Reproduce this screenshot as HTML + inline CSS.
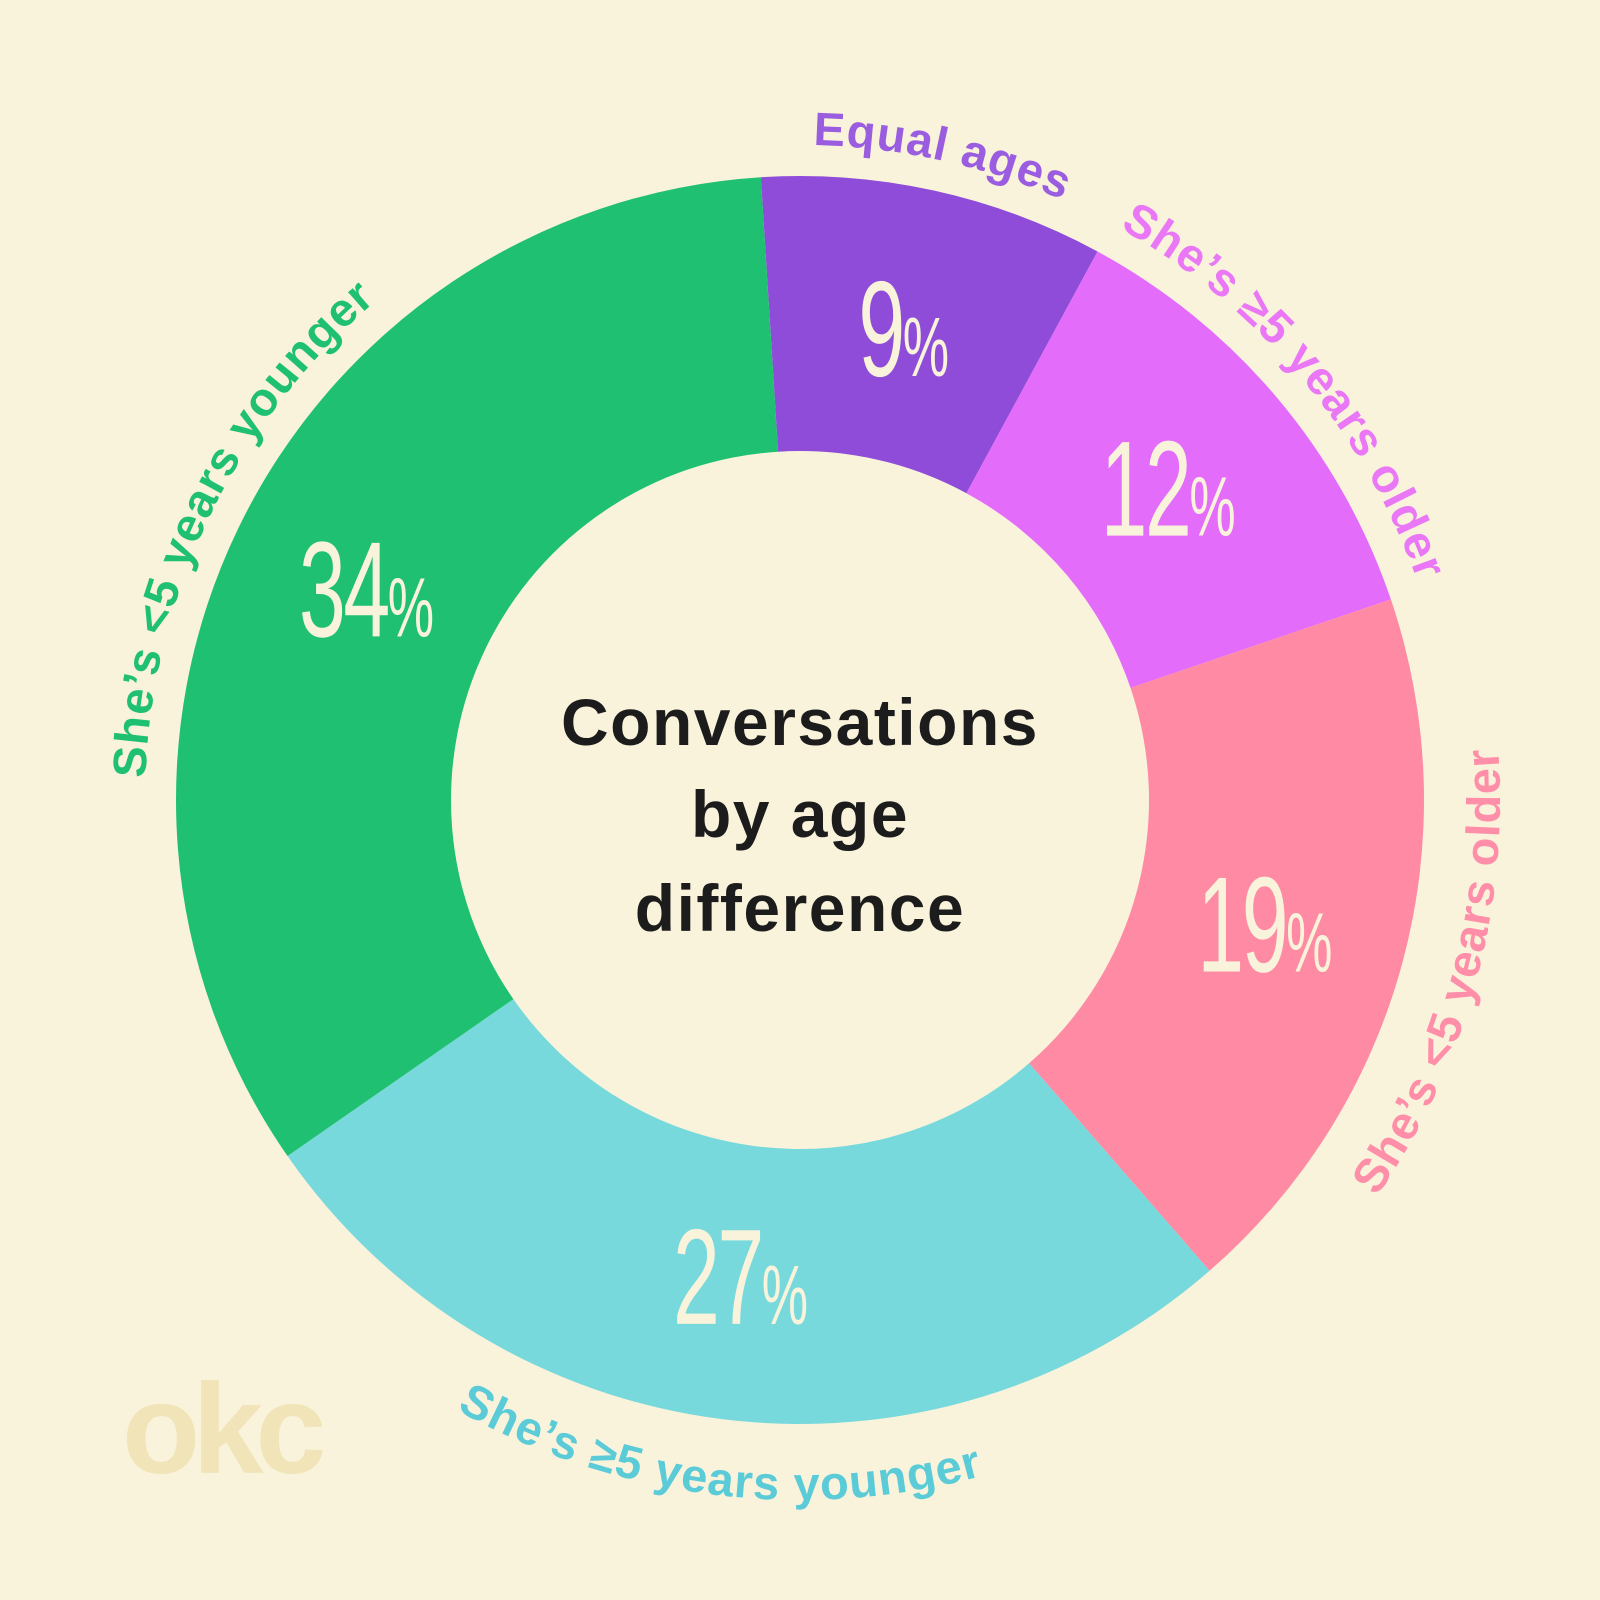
<!DOCTYPE html>
<html><head><meta charset="utf-8"><style>
html,body{margin:0;padding:0;background:#f9f3dc;}
svg{display:block;}
.pct{font-family:"Liberation Sans Narrow","Liberation Sans",sans-serif;fill:#f9f3dc;}
.lbl{font-family:"Liberation Sans",sans-serif;font-weight:bold;font-size:47px;letter-spacing:1px;}
.title{font-family:"Liberation Sans",sans-serif;font-weight:bold;font-size:66px;fill:#1c1c1c;letter-spacing:1.5px;}
</style></head><body>
<svg id="chart" width="1600" height="1600" viewBox="0 0 1600 1600" xmlns="http://www.w3.org/2000/svg">
<rect width="1600" height="1600" fill="#f9f3dc"/>
<defs>
<path id="cw" d="M800,1455 A655,655 0 1,1 800.1,1455"/>
<path id="ccw" d="M100,800 A700,700 0 1,0 100,799.9"/>
</defs>
<g id="slices"></g>
<g id="pcts"></g>
<g id="labels"></g>
<text class="title" x="800" y="745" text-anchor="middle">Conversations</text>
<text class="title" x="800" y="837" text-anchor="middle">by age</text>
<text class="title" x="800" y="931" text-anchor="middle">difference</text>
<text x="122" y="1473" font-family="Liberation Sans,sans-serif" font-weight="bold" font-size="128" fill="#f0e4b8" letter-spacing="-8">okc</text>
</svg>
<script>
const categories = ["Equal ages", "She’s ≥5 years older", "She’s <5 years older", "She’s ≥5 years younger", "She’s <5 years younger"];
const values = [9, 12, 19, 27, 34];
const valueLabels = ["9", "12", "19", "27", "34"];
const colors = ["#8e4cd8", "#e46cfb", "#ff8aa3", "#77d9dc", "#20c073"];
const labelColors = ["#9a5de0", "#ea77f5", "#ff8ea8", "#5ccbd8", "#20c073"];
const labelDirs = ["cw", "cw", "ccw", "ccw", "cw"];

const NS = "http://www.w3.org/2000/svg";
const cx = 800, cy = 800, R = 624, r = 349, startDeg = -3.6;
const total = values.reduce((a, b) => a + b, 0);
function angleScale(v) { return v / total * 360; }
function pt(deg, rad) { const a = deg * Math.PI / 180; return [cx + rad * Math.sin(a), cy - rad * Math.cos(a)]; }
function mod360(a) { return ((a % 360) + 360) % 360; }

const gS = document.getElementById('slices'), gP = document.getElementById('pcts'), gL = document.getElementById('labels');
let acc = startDeg;
values.forEach((v, i) => {
  const a0 = acc, a1 = acc + angleScale(v); acc = a1;
  const large = (a1 - a0) > 180 ? 1 : 0;
  const p0 = pt(a0, R), p1 = pt(a1, R), q1 = pt(a1, r), q0 = pt(a0, r);
  const path = document.createElementNS(NS, 'path');
  path.setAttribute('d', `M${p0[0]},${p0[1]} A${R},${R} 0 ${large},1 ${p1[0]},${p1[1]} L${q1[0]},${q1[1]} A${r},${r} 0 ${large},0 ${q0[0]},${q0[1]} Z`);
  path.setAttribute('fill', colors[i]);
  
  
  gS.appendChild(path);

  const mid = (a0 + a1) / 2;
  const c = pt(mid, (R + r) / 2 - 5);
  const t = document.createElementNS(NS, 'text');
  t.setAttribute('class', 'pct');
  t.setAttribute('text-anchor', 'middle');
  t.setAttribute('transform', `translate(${c[0]},${c[1] + 46}) scale(0.62,1)`);
  
  
  t.innerHTML = `<tspan font-size="136" letter-spacing="-4">${valueLabels[i]}</tspan><tspan font-size="84">%</tspan>`;
  gP.appendChild(t);

  const tl = document.createElementNS(NS, 'text');
  tl.setAttribute('class', 'lbl');
  tl.setAttribute('fill', labelColors[i]);
  
  
  const tp = document.createElementNS(NS, 'textPath');
  tp.setAttribute('href', '#' + labelDirs[i]);
  tp.setAttribute('text-anchor', 'middle');
  let off;
  if (labelDirs[i] === 'cw') {
    off = mod360(mid - 180) / 360 * 100;
  } else {
    off = mod360(270 - mid) / 360 * 100;
  }
  tp.setAttribute('startOffset', off + '%');
  tp.textContent = categories[i];
  tl.appendChild(tp);
  gL.appendChild(tl);
});
</script>
</body></html>
